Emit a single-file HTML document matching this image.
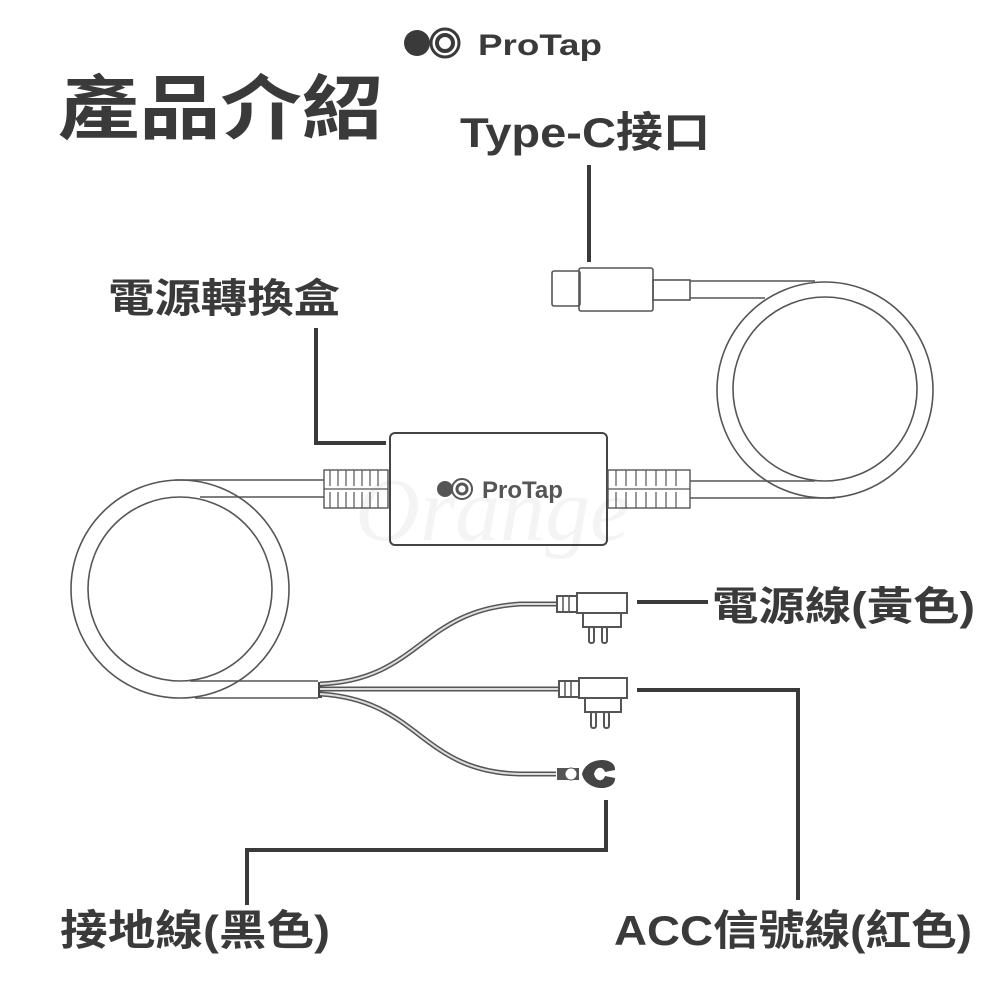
<!DOCTYPE html>
<html><head><meta charset="utf-8"><style>
body{margin:0;background:#fff}
.t{font-family:"Liberation Sans","Noto Sans CJK TC",sans-serif;font-weight:bold;fill:#3a3a3a}
</style></head><body>
<svg width="1000" height="1000" viewBox="0 0 1000 1000" xmlns="http://www.w3.org/2000/svg">
<rect width="1000" height="1000" fill="#fff"/>
<!-- logo top -->
<circle cx="417" cy="43" r="13" fill="#3a3a3a"/>
<circle cx="445" cy="43" r="15" fill="#fff"/>
<circle cx="445" cy="43" r="14" fill="none" stroke="#3a3a3a" stroke-width="3"/>
<circle cx="445" cy="43" r="8" fill="none" stroke="#3a3a3a" stroke-width="4"/>
<text x="478" y="55" class="t" font-size="30" textLength="124" lengthAdjust="spacingAndGlyphs">ProTap</text>
<text x="58" y="133" class="t" font-size="70" textLength="325" lengthAdjust="spacingAndGlyphs">產品介紹</text>
<text x="460" y="147" class="t" font-size="42" textLength="250" lengthAdjust="spacingAndGlyphs">Type-C接口</text>
<text x="108" y="312" class="t" font-size="40" textLength="232" lengthAdjust="spacingAndGlyphs">電源轉換盒</text>
<text x="712" y="620" class="t" font-size="40" textLength="263" lengthAdjust="spacingAndGlyphs">電源線(黃色)</text>
<text x="60" y="945" class="t" font-size="42" textLength="270" lengthAdjust="spacingAndGlyphs">接地線(黑色)</text>
<text x="614" y="945" class="t" font-size="42" textLength="358" lengthAdjust="spacingAndGlyphs">ACC信號線(紅色)</text>
<!-- leaders -->
<g stroke="#3a3a3a" stroke-width="4" fill="none">
<path d="M589 165V262"/>
<path d="M316 328V443H386"/>
<path d="M637 602H708"/>
<path d="M637 690H798V900"/>
<path d="M606 800V850H247V905"/>
</g>
<!-- cables -->
<g stroke="#555" stroke-width="1.6" fill="none">
<circle cx="825" cy="390" r="108"/>
<circle cx="825" cy="389" r="92"/>
<path d="M690 281H815M690 298H765"/>
<path d="M690 481H815M690 498H835"/>
<circle cx="180" cy="589" r="109"/>
<circle cx="180" cy="589" r="92"/>
<path d="M175 480H325M200 497H325"/>
<path d="M190 681H318M195 698H318"/>
<!-- type-c -->
<rect x="552" y="271" width="28" height="35" rx="2"/>
<rect x="579" y="268" width="74" height="43" rx="2"/>
<rect x="653" y="280" width="37" height="20"/>
<!-- box -->
<rect x="390" y="433" width="217" height="112" rx="5" stroke="#444" stroke-width="2"/>
</g>
<!-- strain reliefs -->
<g stroke="#555" stroke-width="1.4" fill="#fff">
<rect x="324" y="470" width="64" height="38"/>
<rect x="608" y="470" width="82" height="38"/>
</g>
<g stroke="#555" stroke-width="1.2" fill="none">
<path d="M330 470v16M338 470v16M346 470v16M354 470v16M362 470v16M370 470v16M378 470v16M330 492v16M338 492v16M346 492v16M354 492v16M362 492v16M370 492v16M378 492v16"/>
<path d="M616 470v16M626 470v16M636 470v16M646 470v16M656 470v16M666 470v16M676 470v16M616 492v16M626 492v16M636 492v16M646 492v16M656 492v16M666 492v16M676 492v16"/>
<path d="M324 489H388M608 489H690"/>
</g>
<!-- box logo -->
<circle cx="445" cy="489" r="8" fill="#555"/>
<circle cx="462" cy="489" r="10" fill="#fff" stroke="#555" stroke-width="2"/>
<circle cx="462" cy="489" r="5" fill="none" stroke="#555" stroke-width="3"/>
<text x="482" y="498" font-family="Liberation Sans,sans-serif" font-weight="bold" font-size="24" fill="#555">ProTap</text>
<text x="355" y="540" font-family="Liberation Serif,serif" font-style="italic" font-size="90" fill="#000" opacity="0.04">Orange</text>
<!-- wires -->
<rect x="318" y="682" width="4" height="16" fill="#444"/>
<g fill="none" stroke="#555" stroke-width="5">
<path d="M320 684C420 680 420 610 520 604H556"/>
<path d="M320 689H558"/>
<path d="M320 694C420 700 420 772 520 774H556"/>
</g>
<g fill="none" stroke="#ddd" stroke-width="2">
<path d="M320 684C420 680 420 610 520 604H556"/>
<path d="M320 689H558"/>
<path d="M320 694C420 700 420 772 520 774H556"/>
</g>
<!-- connectors -->
<g stroke="#555" stroke-width="2" fill="#fff">
<rect x="557" y="596" width="20" height="16"/>
<rect x="577" y="593" width="50" height="20"/>
<rect x="583" y="613" width="38" height="14"/>
<rect x="589" y="627" width="5" height="16" rx="2"/>
<rect x="602" y="627" width="5" height="16" rx="2"/>
<rect x="559" y="681" width="20" height="16"/>
<rect x="579" y="678" width="48" height="20"/>
<rect x="585" y="698" width="36" height="14"/>
<rect x="591" y="712" width="5" height="16" rx="2"/>
<rect x="604" y="712" width="5" height="16" rx="2"/>
</g>
<g stroke="#555" stroke-width="1.5"><path d="M563 596v16M569 596v16M565 681v16M571 681v16"/></g>
<rect x="557" y="768" width="22" height="12" fill="#555"/>
<circle cx="571" cy="774" r="6" fill="#fff" stroke="#555"/>
<path d="M582 774 C586 756 616 756 615 770 L605 772 C603 766 596 766 594 774 C596 782 603 782 605 776 L615 778 C616 792 586 792 582 774Z" fill="#444"/>
</svg>
</body></html>
